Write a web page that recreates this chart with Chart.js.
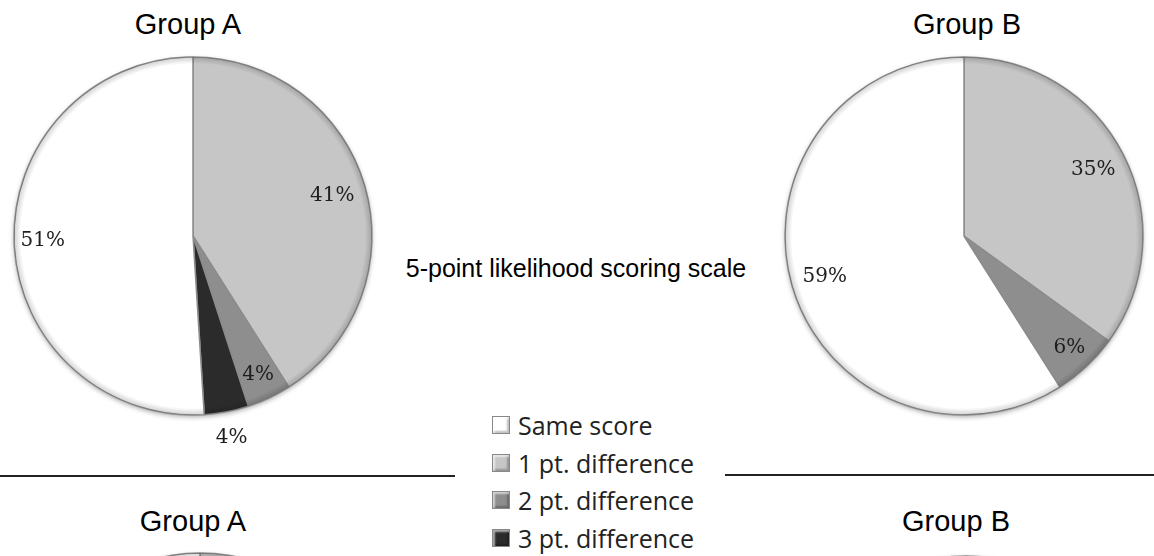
<!DOCTYPE html>
<html>
<head>
<meta charset="utf-8">
<script src="https://cdn.jsdelivr.net/npm/chart.js@4.4.1/dist/chart.umd.min.js"></script>
<style>
  html, body { margin: 0; padding: 0; width: 1154px; height: 556px; overflow: hidden; background: #fff; }
  .box { position: absolute; width: 460px; height: 460px; }
  .title { position: absolute; font-family: "Liberation Sans", Arial, sans-serif; font-size: 29px; color: #000; transform: translate(-50%, -50%); white-space: nowrap; }
  .scale { position: absolute; left: 576px; top: 268px; font-family: "Liberation Sans", Arial, sans-serif; font-size: 25px; transform: translate(-50%, -50%); white-space: nowrap; }
  .rule { position: absolute; height: 2px; background: #222; }
  #legend { position: absolute; left: 492px; top: 406px; font-family: "Open Sans", Lato, sans-serif; font-size: 25px; color: #222; }
  #legend div { height: 37.7px; display: flex; align-items: center; }
  #legend span.sw { display: inline-block; width: 16px; height: 16px; margin-right: 8px; border: 1px solid #888; box-shadow: inset 2px 2px 2px rgba(255,255,255,.6), inset -2px -2px 2px rgba(0,0,0,.25); }
</style>
</head>
<body>
<div class="title" style="left:188px;top:24px">Group A</div>
<div class="title" style="left:967px;top:24px">Group B</div>
<div class="title" style="left:193px;top:521px">Group A</div>
<div class="title" style="left:956px;top:521px">Group B</div>
<div class="scale">5-point likelihood scoring scale</div>
<div class="rule" style="left:0;top:475px;width:455px"></div>
<div class="rule" style="left:725px;top:474px;width:429px"></div>

<!-- boxes are 460 wide, pie centred in them -->
<div class="box" style="left:-37px;top:6px"><canvas id="pieA"></canvas></div>
<div class="box" style="left:734px;top:6px"><canvas id="pieB"></canvas></div>
<div class="box" style="left:-30px;top:502px"><canvas id="pieA2"></canvas></div>
<div class="box" style="left:736px;top:505px"><canvas id="pieB2"></canvas></div>
<div id="legend"></div>

<script>
// legend order
const categories = ['Same score', '1 pt. difference', '2 pt. difference', '3 pt. difference'];
// values in legend order (%)
const groupA = [51, 41, 4, 4];
const groupB = [59, 35, 6, 0];
// lower pair is cut off at the bottom of the picture, values estimated
const groupA2 = [55, 40, 5, 0];
const groupB2 = [60, 34, 6, 0];

const colors = ['#ffffff', '#c6c6c6', '#8e8e8e', '#2b2b2b'];

// slices go clockwise from 12 o'clock: 1 pt, 2 pt, 3 pt, then same score
const drawOrder = [1, 2, 3, 0];

const legend = document.getElementById('legend');
categories.forEach((c, i) => {
    const row = document.createElement('div');
    row.innerHTML = '<span class="sw" style="background:' + colors[i] + '"></span>' + c;
    legend.appendChild(row);
});

// soft drop shadow under the whole pie + darker rim, like the office 3D style
const rim = {
    id: 'rim',
    beforeDatasetsDraw(chart) {
        const a = chart.getDatasetMeta(0).data[0];
        if (!a) return;
        const ctx = chart.ctx;
        ctx.save();
        ctx.shadowColor = 'rgba(0,0,0,0.35)';
        ctx.shadowBlur = 5;
        ctx.shadowOffsetY = 2;
        ctx.beginPath();
        ctx.arc(a.x, a.y, a.outerRadius, 0, Math.PI * 2);
        ctx.fillStyle = '#fff';
        ctx.fill();
        ctx.restore();
    },
    afterDatasetsDraw(chart) {
        const a = chart.getDatasetMeta(0).data[0];
        if (!a) return;
        const ctx = chart.ctx;
        const g = ctx.createRadialGradient(a.x, a.y, a.outerRadius - 7, a.x, a.y, a.outerRadius);
        g.addColorStop(0, 'rgba(0,0,0,0)');
        g.addColorStop(1, 'rgba(0,0,0,0.18)');
        ctx.save();
        ctx.beginPath();
        ctx.arc(a.x, a.y, a.outerRadius, 0, Math.PI * 2);
        ctx.arc(a.x, a.y, a.outerRadius - 7, 0, Math.PI * 2, true);
        ctx.fillStyle = g;
        ctx.fill();
        ctx.restore();
    }
};

const pctLabels = {
    id: 'pctLabels',
    afterDatasetsDraw(chart, args, opts) {
        if (!opts.show) return;
        const ctx = chart.ctx;
        const meta = chart.getDatasetMeta(0);
        const data = chart.data.datasets[0].data;
        ctx.save();
        ctx.font = '20px "DejaVu Serif", "Liberation Serif", serif';
        ctx.fillStyle = '#1e1e1e';
        ctx.textAlign = 'center';
        ctx.textBaseline = 'middle';
        meta.data.forEach((arc, i) => {
            if (!data[i]) return;
            const p = arc.getProps(['x', 'y', 'startAngle', 'endAngle', 'outerRadius'], true);
            const mid = (p.startAngle + p.endAngle) / 2;
            const r = p.outerRadius * (opts.radius[i] || 0.8);
            ctx.fillText(data[i] + '%', p.x + Math.cos(mid) * r, p.y + Math.sin(mid) * r);
        });
        ctx.restore();
    }
};

function makePie(id, values, labelRadius, showLabels) {
    return new Chart(document.getElementById(id), {
        type: 'pie',
        data: {
            labels: drawOrder.map(i => categories[i]),
            datasets: [{
                data: drawOrder.map(i => values[i]),
                backgroundColor: drawOrder.map(i => colors[i]),
                borderColor: '#8c8c8c',
                borderWidth: 1.5
            }]
        },
        options: {
            responsive: true,
            maintainAspectRatio: false,
            animation: false,
            radius: 179,
            plugins: {
                legend: { display: false },
                tooltip: { enabled: false },
                pctLabels: { show: showLabels, radius: labelRadius }
            }
        },
        plugins: [rim, pctLabels]
    });
}

makePie('pieA', groupA, [0.81, 0.855, 1.15, 0.84], true);
makePie('pieB', groupB, [0.81, 0.86, 0.86, 0.81], true);
makePie('pieA2', groupA2, [0.8, 0.8, 0.8, 0.8], false);
makePie('pieB2', groupB2, [0.8, 0.8, 0.8, 0.8], false);
</script>
</body>
</html>
